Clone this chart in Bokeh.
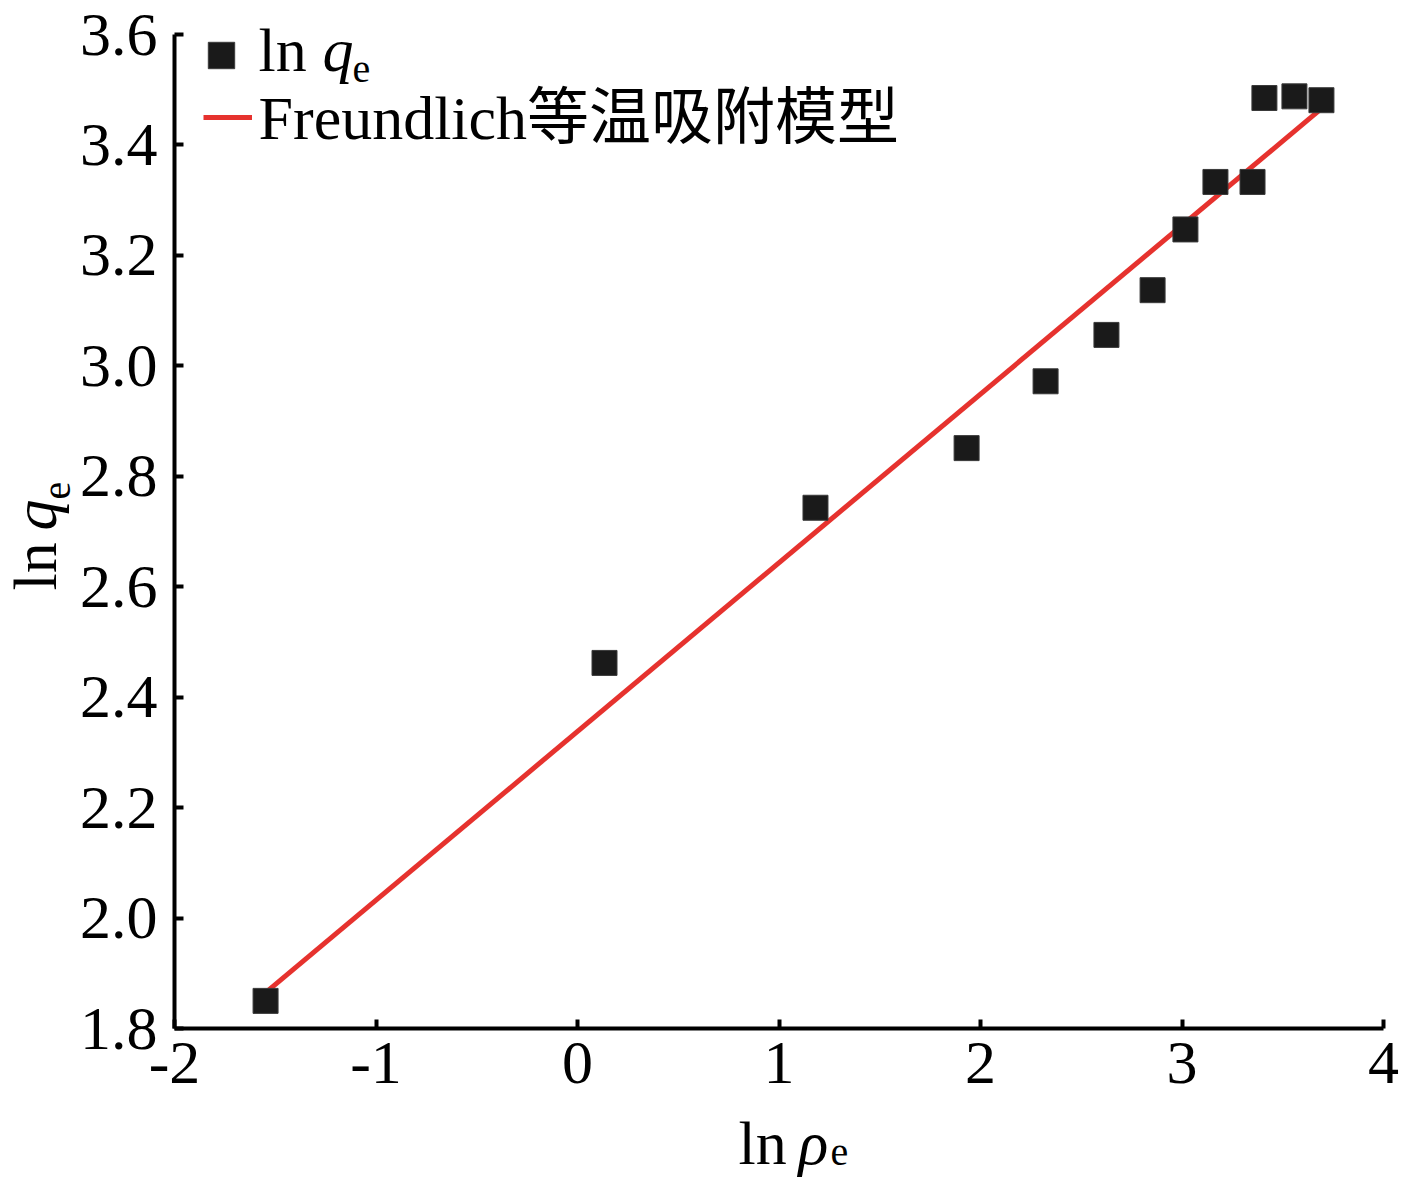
import math
from bokeh.plotting import figure
from bokeh.models import (Label, Legend, LegendItem, FixedTicker, ColumnDataSource,
                          Range1d)
from bokeh.embed import file_html
from bokeh.resources import INLINE

# ---------------- data ----------------
ln_rho_e = [-1.548, 0.134, 1.181, 1.931, 2.323, 2.625, 2.854, 3.017, 3.166, 3.350, 3.409, 3.558, 3.692]
ln_q_e = [1.850, 2.462, 2.743, 2.851, 2.972, 3.056, 3.137, 3.247, 3.333, 3.333, 3.485, 3.488, 3.481]

fit_x = [-1.548, 3.696]
fit_y = [1.865, 3.467]

x_ticks = [-2, -1, 0, 1, 2, 3, 4]
x_tick_labels = ["-2", "-1", "0", "1", "2", "3", "4"]
y_ticks = [1.8, 2.0, 2.2, 2.4, 2.6, 2.8, 3.0, 3.2, 3.4, 3.6]
y_tick_labels = ["1.8", "2.0", "2.2", "2.4", "2.6", "2.8", "3.0", "3.2", "3.4", "3.6"]

fit_label = "Freundlich等温吸附模型"

# ---------------- layout (pixels) ----------------
W, H = 1413, 1178              # canvas
AX_L, AX_R = 174, 1383         # pixel position of x = -2 and x = 4
AX_T, AX_B = 34, 1028          # pixel position of y = 3.6 and y = 1.8
X0, X1 = x_ticks[0], x_ticks[-1]
Y0, Y1 = y_ticks[0], y_ticks[-1]
kx = (X1 - X0) / (AX_R - AX_L)
ky = (Y1 - Y0) / (AX_B - AX_T)
x_range = Range1d(X0 - AX_L * kx, X0 + (W - AX_L) * kx)
y_range = Range1d(Y0 - (H - AX_B) * ky, Y1 + AX_T * ky)

# ---------------- styles ----------------
SERIF = "Liberation Serif, Noto Sans CJK SC"
TICK_FS = "62px"
FS = "62px"
SUB = "40px"
RED = "#e6322e"
DARK = "#1a1a1a"

p = figure(x_range=x_range, y_range=y_range,
           frame_width=W, frame_height=H, min_border=0,
           output_backend="svg", toolbar_location=None)
p.outline_line_color = None
p.xgrid.visible = False
p.ygrid.visible = False
p.background_fill_color = "white"
p.border_fill_color = "white"

for ax in (p.xaxis[0], p.yaxis[0]):
    ax.axis_line_width = 4
    ax.axis_line_color = "black"
    ax.major_tick_in = 9
    ax.major_tick_out = 0
    ax.major_tick_line_width = 4
    ax.major_tick_line_color = "black"
    ax.minor_tick_line_color = None
    ax.major_label_text_font = SERIF
    ax.major_label_text_font_size = TICK_FS
    ax.major_label_text_color = "black"

p.xaxis.fixed_location = Y0
p.xaxis.bounds = (X0, X1)
p.xaxis.ticker = FixedTicker(ticks=x_ticks)
p.xaxis.major_label_overrides = dict(zip(x_ticks, x_tick_labels))
p.xaxis.major_label_standoff = 14

p.yaxis.fixed_location = X0
p.yaxis.bounds = (Y0, Y1)
p.yaxis.ticker = FixedTicker(ticks=y_ticks)
p.yaxis.major_label_overrides = dict(zip(y_ticks, y_tick_labels))
p.yaxis.major_label_standoff = 17

src = ColumnDataSource(dict(x=ln_rho_e, y=ln_q_e))
fit_src = ColumnDataSource(dict(x=fit_x, y=fit_y))

r_line = p.line("x", "y", source=fit_src, line_color=RED, line_width=5)
r_pts = p.scatter("x", "y", source=src, marker="square", size=25,
                  fill_color=DARK, line_color="#3a3a3a", line_width=1)

# legend samples (labels drawn separately as rich text)
leg1 = Legend(items=[LegendItem(label=" ", renderers=[r_pts])],
              location=(188, H - 88), glyph_width=66, glyph_height=66,
              padding=0, margin=0, border_line_color=None, background_fill_alpha=0,
              label_text_font_size="1px", label_text_alpha=0, label_width=1, label_height=1)
leg2 = Legend(items=[LegendItem(label=" ", renderers=[r_line])],
              location=(203, H - 127), glyph_width=49, glyph_height=20,
              padding=0, margin=0, border_line_color=None, background_fill_alpha=0,
              label_text_font_size="1px", label_text_alpha=0, label_width=1, label_height=1)
p.add_layout(leg1)
p.add_layout(leg2)

def lab(px, py, text, size=FS, style="normal", angle=0.0):
    # px, py: pixel position from the canvas top-left
    p.add_layout(Label(x=px, y=H - py, x_units="screen", y_units="screen", text=text,
                       text_font=SERIF, text_font_size=size,
                       text_font_style=style, text_color="black", angle=angle,
                       text_align="left", text_baseline="middle"))

# legend texts
lab(258, 49, "ln")
lab(322, 49, "q", style="italic")
lab(352, 68, "e", size=SUB)
lab(258, 117, fit_label)

# x axis label: ln ρe
lab(738, 1142, "ln")
lab(798, 1142, "ρ", style="italic")
lab(830, 1151, "e", size=SUB)

# y axis label: ln qe (rotated)
lab(34, 590, "ln", angle=math.pi / 2)
lab(34, 530, "q", style="italic", angle=math.pi / 2)
lab(56, 499, "e", size=SUB, angle=math.pi / 2)

open("out.html", "w").write(file_html(p, INLINE))
